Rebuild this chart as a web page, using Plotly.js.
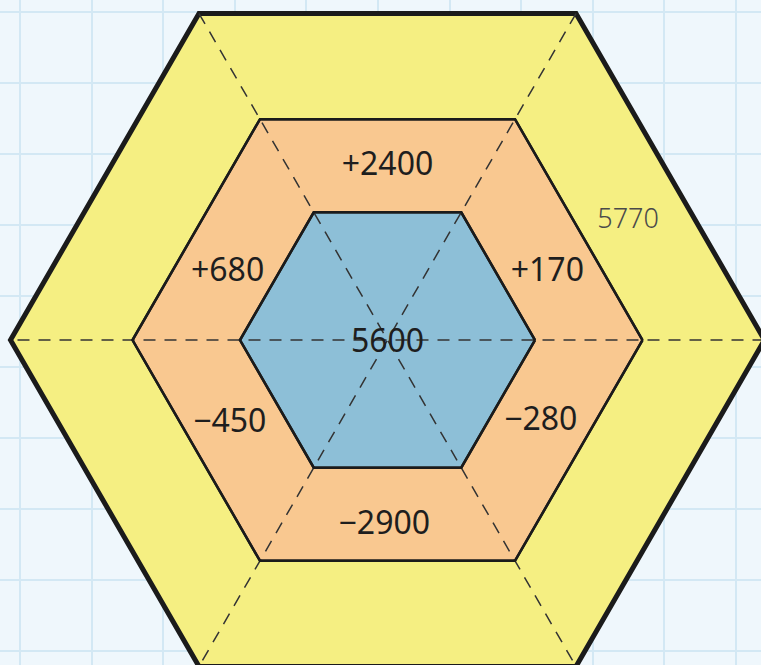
<!DOCTYPE html>
<html><head><meta charset="utf-8">
<script src="https://cdn.plot.ly/plotly-3.0.1.min.js"></script>
<style>html,body{margin:0;padding:0;background:#eff7fc}</style>
</head><body>
<div id="chart" style="width:761px;height:665px"></div>
<script>
// ---- data ----
const centerValue = "5600";
const ringLabels = ["+2400", "+170", "\u2212280", "\u22122900", "\u2212450", "+680"];
const outerTotal = "5770";

// ---- geometry / style config ----
const R = {outer: 377, middle: 255, inner: 147.5};
const ringLabelAngles = [90, 24, -27, -91, -153, 156];
const ringLabelRadii = [177, 175, 172, 182, 177, 175];
const totalAngle = 27, totalRadius = 270;
const textDrop = 4; // baseline correction for vertical centring

function hex(r) {
  const xs = [], ys = [];
  for (let k = 0; k <= 6; k++) {
    const a = Math.PI / 3 * k;
    xs.push(r * Math.cos(a)); ys.push(r * Math.sin(a));
  }
  return {x: xs, y: ys};
}
const traces = [];
function hexTrace(r, fill, lw) {
  const h = hex(r);
  return {x: h.x, y: h.y, mode: 'lines', fill: 'toself', fillcolor: fill,
    line: {color: '#1b1b1b', width: lw}, hoverinfo: 'skip', showlegend: false};
}
traces.push(hexTrace(R.outer, '#f5ef82', 5));
traces.push(hexTrace(R.middle, '#f9c890', 2.5));
traces.push(hexTrace(R.inner, '#8dbfd7', 2.5));
// dashed diameters
for (let k = 0; k < 3; k++) {
  const a = Math.PI / 3 * k;
  traces.push({x: [R.outer * Math.cos(a), -R.outer * Math.cos(a)],
    y: [R.outer * Math.sin(a), -R.outer * Math.sin(a)], mode: 'lines',
    line: {color: '#333', width: 1.5, dash: '12px,9px'}, hoverinfo: 'skip', showlegend: false});
}
// redraw borders of inner hexes on top
[R.middle, R.inner].forEach(r => {
  const h = hex(r);
  traces.push({x: h.x, y: h.y, mode: 'lines', line: {color: '#1b1b1b', width: 2.5},
    hoverinfo: 'skip', showlegend: false});
});
// labels
traces.push({
  x: ringLabelAngles.map((a, i) => ringLabelRadii[i] * Math.cos(a * Math.PI / 180)).concat([0]),
  y: ringLabelAngles.map((a, i) => ringLabelRadii[i] * Math.sin(a * Math.PI / 180) - textDrop).concat([-textDrop]),
  text: ringLabels.concat([centerValue]), mode: 'text',
  textfont: {family: 'Noto Sans, DejaVu Sans, sans-serif', size: 32, color: '#1e1e1e'},
  hoverinfo: 'skip', showlegend: false
});
traces.push({
  x: [totalRadius * Math.cos(totalAngle * Math.PI / 180)],
  y: [totalRadius * Math.sin(totalAngle * Math.PI / 180) - textDrop],
  text: [outerTotal], mode: 'text',
  textfont: {family: 'Noto Sans, DejaVu Sans, sans-serif', size: 27, color: '#4a4a4a', weight: 300},
  hoverinfo: 'skip', showlegend: false
});

const layout = {
  width: 761, height: 665, margin: {l: 0, r: 0, t: 0, b: 0},
  paper_bgcolor: '#eff7fc', plot_bgcolor: '#eff7fc',
  xaxis: {range: [-387.5, 373.5], showgrid: true, gridcolor: '#d3e8f4', gridwidth: 2,
    tick0: -367.5, dtick: 71.6, zeroline: false, showticklabels: false, ticks: '', fixedrange: true},
  yaxis: {range: [-325, 340], showgrid: true, gridcolor: '#d3e8f4', gridwidth: 2,
    tick0: 328, dtick: 71, zeroline: false, showticklabels: false, ticks: '', fixedrange: true},
  showlegend: false
};
Plotly.newPlot('chart', traces, layout, {staticPlot: true});
</script>
</body></html>
